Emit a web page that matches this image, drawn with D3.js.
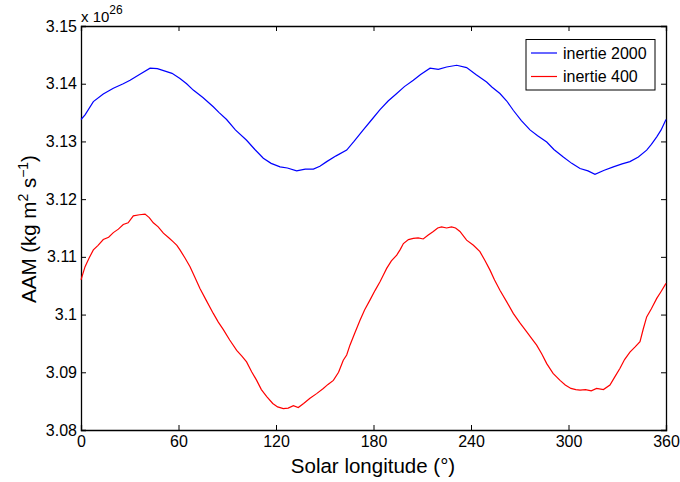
<!DOCTYPE html>
<html><head><meta charset="utf-8">
<script src="https://cdn.jsdelivr.net/npm/d3@7"></script>
<style>body{margin:0;background:#fff}svg{display:block;font-family:"Liberation Sans",Arial,sans-serif}</style>
</head><body><svg id="c" width="680" height="482"></svg>
<script>
const seriesNames = ["inertie 2000", "inertie 400"];
const seriesColors = ["#0000ff", "#ff0000"];
const xTicks = [0, 60, 120, 180, 240, 300, 360];
const yTicks = [3.08, 3.09, 3.10, 3.11, 3.12, 3.13, 3.14, 3.15];
const yTickLabels = ["3.08", "3.09", "3.1", "3.11", "3.12", "3.13", "3.14", "3.15"];

const lonBlue = [0, 2.5, 7.6, 13.7, 19.9, 26, 30.2, 36, 42.5, 47, 52.7, 56, 60.9, 65, 69.1, 75, 81.4, 85, 89.6, 95, 101.9, 107, 112.2, 117, 122.5, 127, 132.7, 138, 143, 147, 151.2, 157, 163.5, 168, 173.7, 179, 184, 189, 194.3, 199, 204.5, 209, 214.8, 219.9, 225, 231.2, 237.3, 243, 249.6, 253, 257.8, 262, 266, 271, 276.3, 281, 286.6, 291, 296.8, 302, 307.1, 312, 316.3, 322, 327.6, 333, 337.8, 343, 348.1, 351, 354.3, 357, 360];
const aamBlue = [3.1338, 3.1346, 3.1369, 3.1382, 3.1392, 3.1400, 3.1406, 3.1416, 3.1427, 3.1426, 3.1421, 3.1418, 3.1409, 3.1400, 3.1389, 3.1376, 3.1360, 3.1350, 3.1338, 3.1320, 3.1302, 3.1286, 3.1271, 3.1262, 3.1256, 3.1254, 3.1249, 3.1252, 3.1252, 3.1257, 3.1265, 3.1275, 3.1285, 3.1300, 3.1320, 3.1338, 3.1355, 3.1370, 3.1383, 3.1395, 3.1406, 3.1416, 3.1427, 3.1425, 3.1429, 3.1432, 3.1428, 3.1416, 3.1403, 3.1394, 3.1383, 3.1370, 3.1354, 3.1336, 3.1320, 3.1310, 3.1299, 3.1286, 3.1273, 3.1262, 3.1253, 3.1249, 3.1243, 3.1250, 3.1256, 3.1261, 3.1265, 3.1273, 3.1285, 3.1295, 3.1308, 3.1320, 3.1338];

const lonRed = [0, 2.5, 5, 7.6, 10.5, 13.7, 17, 19.9, 23, 26, 29, 32.2, 36, 39.4, 42, 44.5, 47.5, 50.7, 54, 56.8, 59, 60.9, 64, 67.1, 70, 73.2, 77, 81.4, 84.5, 87.6, 91.5, 95.8, 99, 101.9, 105, 108.1, 111, 114.3, 118, 121, 124.5, 127.5, 130.7, 133.7, 137, 140.9, 145, 149.1, 152, 155.3, 158.5, 161.4, 163.5, 165.5, 168.5, 171.7, 174.5, 177.8, 181, 184, 186, 188.1, 191, 194.3, 196.5, 198.4, 201.5, 204.5, 207.5, 210.6, 213.7, 216.8, 219.5, 221.9, 225, 228, 230.5, 233.2, 237.3, 241.5, 245.5, 248.5, 251.7, 254.5, 257.8, 262, 266, 270, 274.3, 277.5, 280.4, 283.5, 286.6, 290.5, 294.8, 298, 301.5, 304.5, 307.1, 310.5, 314, 317.3, 321.5, 325.5, 328.5, 331.7, 334.5, 337.8, 341, 344, 346, 348.1, 351, 354.3, 357, 360];
const aamRed = [3.1060, 3.1083, 3.1098, 3.1112, 3.1120, 3.1130, 3.1134, 3.1142, 3.1148, 3.1156, 3.1159, 3.1171, 3.1173, 3.1174, 3.1168, 3.1159, 3.1152, 3.1141, 3.1133, 3.1126, 3.1120, 3.1112, 3.1098, 3.1083, 3.1065, 3.1045, 3.1025, 3.1002, 3.0987, 3.0974, 3.0956, 3.0938, 3.0928, 3.0918, 3.0901, 3.0886, 3.0870, 3.0858, 3.0846, 3.0840, 3.0837, 3.0838, 3.0842, 3.0839, 3.0846, 3.0855, 3.0863, 3.0872, 3.0879, 3.0886, 3.0900, 3.0921, 3.0930, 3.0947, 3.0968, 3.0990, 3.1008, 3.1025, 3.1042, 3.1057, 3.1068, 3.1080, 3.1093, 3.1103, 3.1113, 3.1123, 3.1130, 3.1132, 3.1133, 3.1131, 3.1138, 3.1144, 3.1150, 3.1152, 3.1150, 3.1152, 3.1150, 3.1144, 3.1129, 3.1120, 3.1109, 3.1094, 3.1077, 3.1060, 3.1042, 3.1022, 3.1002, 3.0986, 3.0970, 3.0958, 3.0947, 3.0932, 3.0915, 3.0898, 3.0886, 3.0878, 3.0872, 3.0870, 3.0869, 3.0870, 3.0868, 3.0872, 3.0870, 3.0878, 3.0892, 3.0907, 3.0922, 3.0935, 3.0944, 3.0953, 3.0975, 3.0996, 3.1010, 3.1028, 3.1040, 3.1054];

const svg = d3.select("#c");
const L = 81, R = 666, T = 26, B = 430;
const x = d3.scaleLinear().domain([0, 360]).range([L, R]);
const y = d3.scaleLinear().domain([3.08, 3.15]).range([B, T]);

const tickFont = 16;
const FF = '"Liberation Sans",Arial,sans-serif';
const gB = svg.append("g").attr("transform", `translate(0,${B})`)
  .call(d3.axisBottom(x).tickValues(xTicks).tickSize(-5).tickPadding(6).tickFormat(d3.format("d")));
const gT = svg.append("g").attr("transform", `translate(0,${T})`)
  .call(d3.axisTop(x).tickValues(xTicks).tickSize(-5).tickFormat(""));
const gL = svg.append("g").attr("transform", `translate(${L},0)`)
  .call(d3.axisLeft(y).tickValues(yTicks).tickSize(-5).tickPadding(4).tickFormat((d, i) => yTickLabels[i]));
const gR = svg.append("g").attr("transform", `translate(${R},0)`)
  .call(d3.axisRight(y).tickValues(yTicks).tickSize(-5).tickFormat(""));
[gB, gT, gL, gR].forEach(g => {
  g.select(".domain").attr("stroke", "#000").attr("stroke-width", 1.3);
  g.selectAll(".tick line").attr("stroke", "#000").attr("stroke-width", 1);
  g.selectAll("text").attr("font-size", tickFont).attr("fill", "#000").attr("font-family", FF);
});
gL.selectAll(".tick text").attr("dy", "0.32em");
gB.selectAll(".tick text").attr("dy", "0.71em");

// exponent label
const ex = svg.append("text").attr("x", L).attr("y", 22).attr("font-size", 15).attr("fill", "#000");
ex.append("tspan").text("x 10");
ex.append("tspan").attr("font-size", 12).attr("dy", -8).text("26");

// lines
const line = d3.line().x(d => x(d[0])).y(d => y(d[1]));
const blueData = lonBlue.map((l, i) => [l, aamBlue[i]]);
const redData = lonRed.map((l, i) => [l, aamRed[i]]);
svg.append("path").datum(blueData).attr("d", line).attr("fill", "none").attr("stroke", seriesColors[0]).attr("stroke-width", 1.2);
svg.append("path").datum(redData).attr("d", line).attr("fill", "none").attr("stroke", seriesColors[1]).attr("stroke-width", 1.2);

// legend
const lg = svg.append("g");
lg.append("rect").attr("x", 526).attr("y", 39.5).attr("width", 129).attr("height", 50.5)
  .attr("fill", "#fff").attr("stroke", "#000").attr("stroke-width", 1);
seriesNames.forEach((n, i) => {
  const yy = 53 + i * 23.5;
  lg.append("line").attr("x1", 531).attr("x2", 557).attr("y1", yy).attr("y2", yy)
    .attr("stroke", seriesColors[i]).attr("stroke-width", 1.2);
  lg.append("text").attr("x", 563).attr("y", yy).attr("dy", "0.35em").attr("font-size", 16).attr("fill", "#000").text(n);
});

// axis titles
svg.append("text").attr("x", 373).attr("y", 473).attr("text-anchor", "middle")
  .attr("font-size", 20.5).attr("fill", "#000").text("Solar longitude (°)");
const yl = svg.append("text").attr("transform", `translate(36,229) rotate(-90)`)
  .attr("text-anchor", "middle").attr("font-size", 20.5).attr("fill", "#000");
yl.append("tspan").text("AAM (kg m");
yl.append("tspan").attr("font-size", 14).attr("dy", -8).text("2");
yl.append("tspan").attr("dy", 8).text(" s");
yl.append("tspan").attr("font-size", 14).attr("dy", -8).text("−1");
yl.append("tspan").attr("dy", 8).text(")");
</script></body></html>
